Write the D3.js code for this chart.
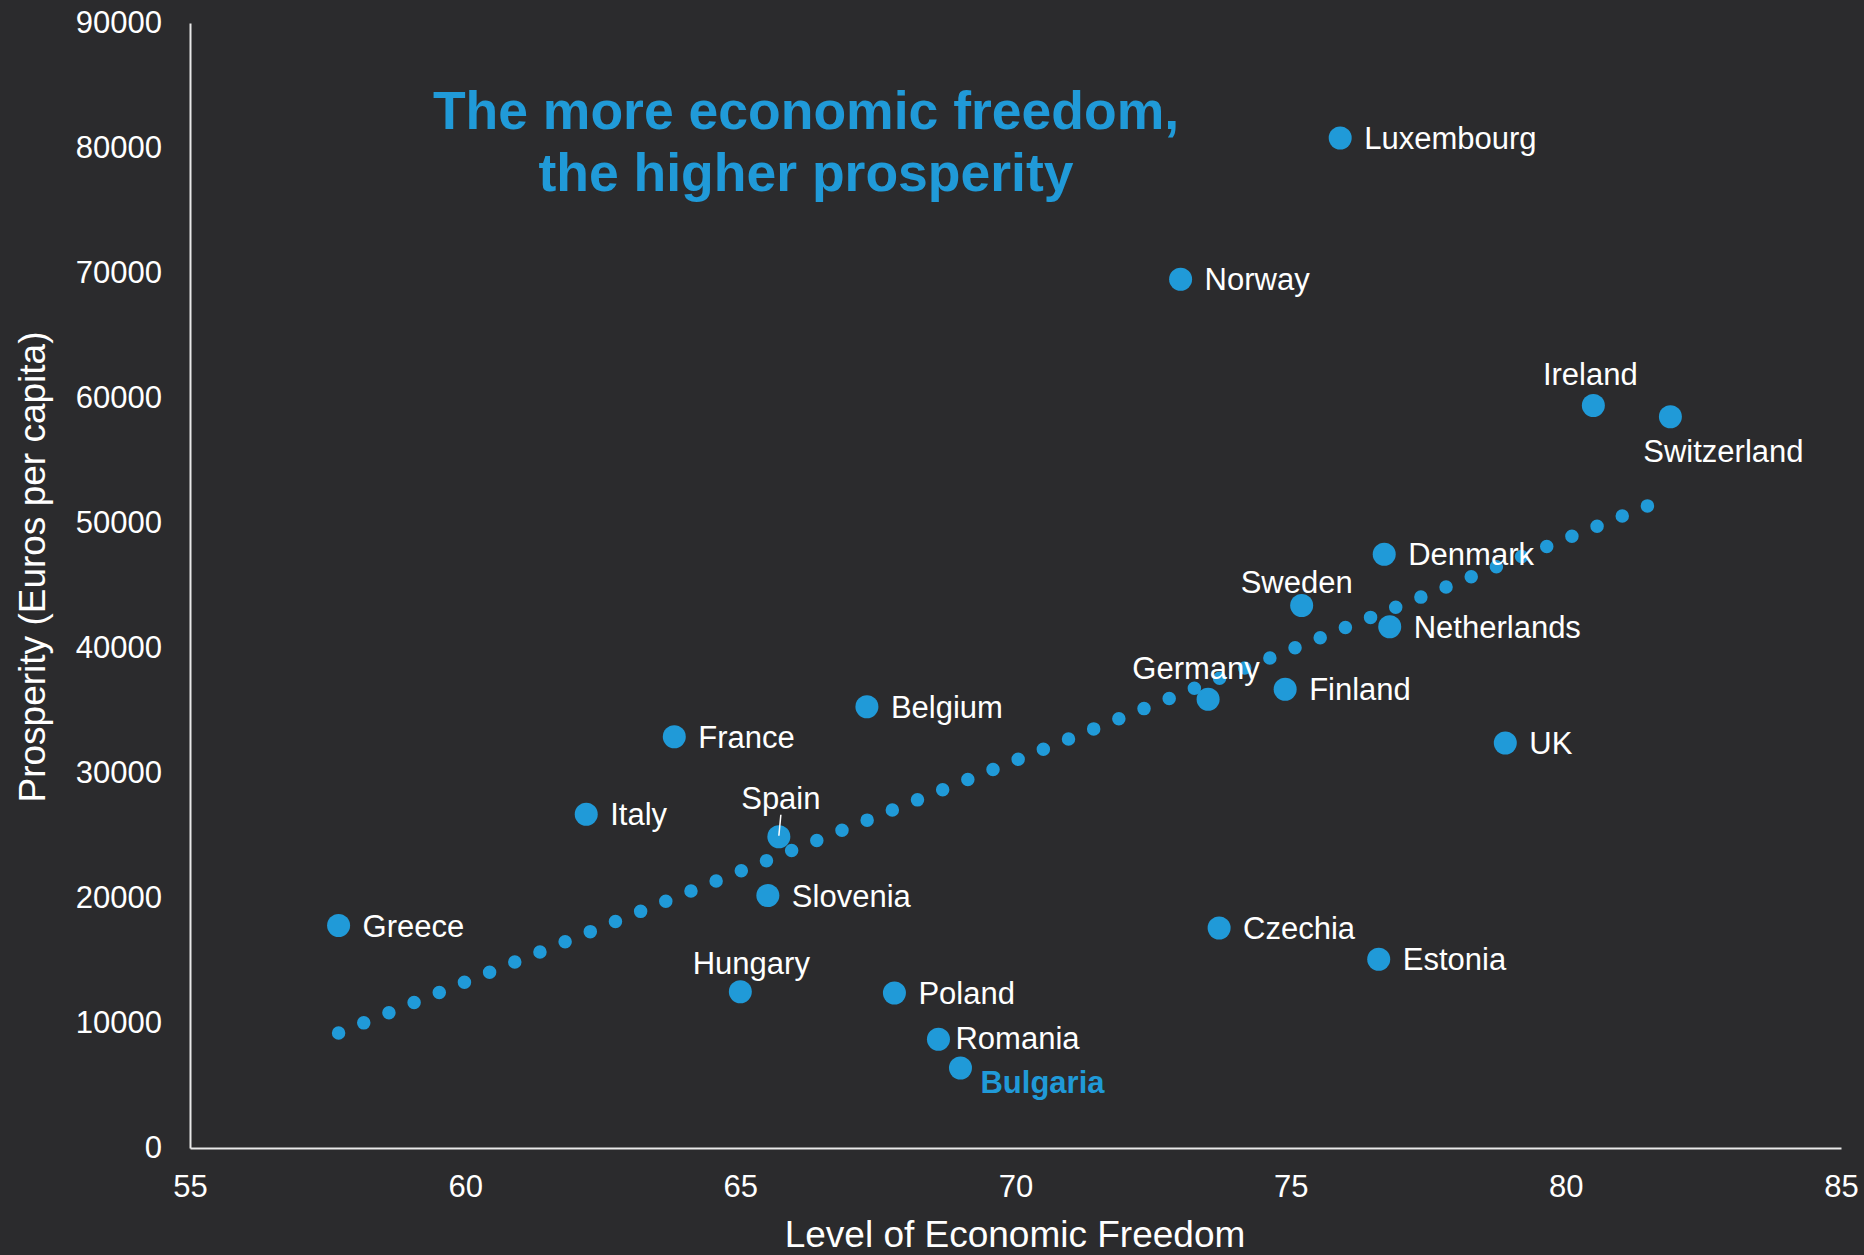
<!DOCTYPE html>
<html>
<head>
<meta charset="utf-8">
<script src="https://cdn.jsdelivr.net/npm/d3@7"></script>
<style>
  html, body { margin: 0; padding: 0; background: #2b2b2d; }
  svg { display: block; }
  text { font-family: "Liberation Sans", Arial, sans-serif; }
</style>
</head>
<body>
<svg id="chart" width="1864" height="1255"></svg>
<script>
// ---- Data ----
const countries = ["Luxembourg","Norway","Ireland","Switzerland","Denmark","Sweden","Netherlands","Germany","Finland","UK","Belgium","France","Italy","Spain","Slovenia","Greece","Czechia","Estonia","Hungary","Poland","Romania","Bulgaria"];
const freedom   = [75.9, 73.0, 80.5, 81.9, 76.7, 75.2, 76.8, 73.5, 74.9, 78.9, 67.3, 63.8, 62.2, 65.7, 65.5, 57.7, 73.7, 76.6, 65.0, 67.8, 68.6, 69.0];
const prosperity= [80800, 69500, 59400, 58500, 47500, 43400, 41700, 35900, 36700, 32400, 35300, 32900, 26700, 24900, 20200, 17800, 17600, 15100, 12500, 12400, 8700, 6400];
// label placement codes
const labelPos  = ["r","r","a","b","r","as","r","ag","r","r","r","r","r","s","r","r","r","r","ah","r","rr","hl"];
const trendX = [57.7, 81.5];
const trendY = [9200, 51400];
const xTicks = [55, 60, 65, 70, 75, 80, 85];
const yTicks = [0, 10000, 20000, 30000, 40000, 50000, 60000, 70000, 80000, 90000];
const titleLines = ["The more economic freedom,", "the higher prosperity"];
const xTitle = "Level of Economic Freedom";
const yTitle = "Prosperity (Euros per capita)";

// ---- Styling ----
const BLUE = "#209ad8";
const FG = "#ffffff";
const AXIS = "#e8e8e8";

const svg = d3.select("#chart");
svg.append("rect").attr("width", 1864).attr("height", 1255).attr("fill", "#2b2b2d");

const x = d3.scaleLinear().domain([55, 85]).range([190, 1841]);
const y = d3.scaleLinear().domain([0, 90000]).range([1148, 23]);

// axes
const xAxis = d3.axisBottom(x).tickValues(xTicks).tickSize(0).tickPadding(27).tickFormat(d3.format("d"));
const yAxis = d3.axisLeft(y).tickValues(yTicks).tickSize(0).tickPadding(28).tickFormat(d3.format("d"));

const gx = svg.append("g").attr("transform", `translate(0,${y(0)})`).call(xAxis);
const gy = svg.append("g").attr("transform", `translate(${x(55)},0)`).call(yAxis);
[gx, gy].forEach(g => {
  g.select(".domain").attr("stroke", AXIS).attr("stroke-width", 2);
  g.selectAll("text").attr("fill", FG).attr("font-size", 31).attr("font-family", "Liberation Sans, Arial, sans-serif");
});

// axis titles
svg.append("text").attr("x", 1015).attr("y", 1247).attr("text-anchor", "middle")
  .attr("fill", FG).attr("font-size", 37).text(xTitle);
svg.append("text").attr("transform", `translate(45,567) rotate(-90)`).attr("text-anchor", "middle")
  .attr("fill", FG).attr("font-size", 37).text(yTitle);

// title
const t = svg.append("text").attr("text-anchor", "middle").attr("fill", BLUE)
  .attr("font-size", 53.5).attr("font-weight", "bold");
titleLines.forEach((l, i) => t.append("tspan").attr("x", 806).attr("y", 129 + i * 62).text(l));

// trendline (dotted)
const trend = trendX.map((v, i) => [x(v), y(trendY[i])]);
const tp = svg.append("path").attr("d", d3.line()(trend)).attr("fill", "none")
  .attr("stroke", BLUE).attr("stroke-width", 13.5).attr("stroke-linecap", "round");
const len = tp.node().getTotalLength();
const n = Math.round(len / 27.1);
tp.attr("stroke-dasharray", `0 ${len / n - 0.02}`);

// points
const data = countries.map((c, i) => ({ c, x: freedom[i], y: prosperity[i], p: labelPos[i] }));
svg.append("g").selectAll("circle").data(data).join("circle")
  .attr("cx", d => x(d.x)).attr("cy", d => y(d.y)).attr("r", 11.5).attr("fill", BLUE);

// labels
const lg = svg.append("g").attr("font-size", 31).attr("fill", FG);
data.forEach(d => {
  const px = x(d.x), py = y(d.y);
  let tx = px + 24, ty = py + 11, anchor = "start", col = FG, weight = "normal";
  if (d.p === "rr") { tx = px + 17; ty = py + 10; }
  if (d.p === "a") { tx = px - 3; ty = py - 21; anchor = "middle"; }
  if (d.p === "as") { tx = px - 5; ty = py - 13; anchor = "middle"; }
  if (d.p === "ag") { tx = px - 12; ty = py - 20; anchor = "middle"; }
  if (d.p === "ah") { tx = px + 11; ty = py - 18; anchor = "middle"; }
  if (d.p === "b") { tx = px + 53; ty = py + 45; anchor = "middle"; }
  if (d.p === "s") { tx = px + 2; ty = py - 28; anchor = "middle"; }
  if (d.p === "hl") { tx = px + 20; ty = py + 25; col = BLUE; weight = "bold"; }
  if (d.p === "s") {
    svg.append("line").attr("x1", px + 2).attr("y1", py - 22).attr("x2", px).attr("y2", py - 1)
      .attr("stroke", FG).attr("stroke-width", 1.5);
  }
  lg.append("text").attr("x", tx).attr("y", ty).attr("text-anchor", anchor)
    .attr("fill", col).attr("font-weight", weight).text(d.c);
});
</script>
</body>
</html>
